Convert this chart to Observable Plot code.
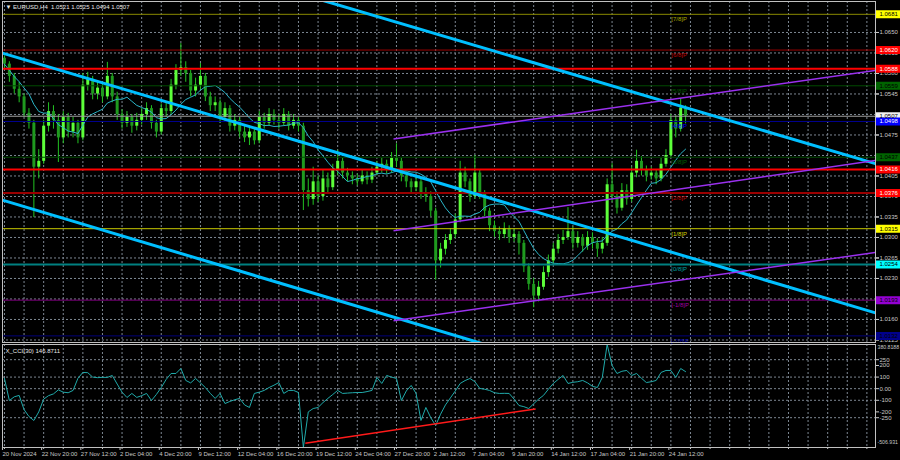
<!DOCTYPE html>
<html><head><meta charset="utf-8">
<script src="https://cdn.jsdelivr.net/npm/d3@7"></script>
<script src="https://cdn.jsdelivr.net/npm/@observablehq/plot@0.6"></script>
<style>
html,body{margin:0;padding:0;background:#000;}
#wrap{position:relative;width:900px;height:460px;background:#000;overflow:hidden;}
#wrap svg{position:absolute;left:0;}
</style></head><body><div id="wrap"></div>
<script>
// ---------- data (EURUSD, one candle = 2 H4 bars) ----------
const symbol = "EURUSD,H4";
const firstOpen = 1.0606;
const close = [1.0596,1.0575,1.0553,1.0540,1.0512,1.0495,1.0420,1.0430,1.0490,1.0515,
1.0500,1.0470,1.0505,1.0480,1.0495,1.0470,1.0560,1.0570,1.0545,1.0555,
1.0540,1.0575,1.0540,1.0510,1.0495,1.0505,1.0490,1.0500,1.0510,1.0520,
1.0495,1.0480,1.0520,1.0515,1.0560,1.0585,1.0590,1.0580,1.0550,1.0560,
1.0575,1.0540,1.0525,1.0530,1.0505,1.0520,1.0490,1.0500,1.0480,1.0470,
1.0480,1.0465,1.0505,1.0495,1.0510,1.0500,1.0495,1.0510,1.0490,1.0500,
1.0490,1.0380,1.0365,1.0395,1.0370,1.0400,1.0385,1.0415,1.0430,1.0410,
1.0405,1.0400,1.0395,1.0405,1.0398,1.0410,1.0420,1.0425,1.0415,1.0435,
1.0430,1.0405,1.0395,1.0385,1.0395,1.0375,1.0370,1.0345,1.0260,1.0280,
1.0295,1.0305,1.0330,1.0410,1.0395,1.0370,1.0410,1.0375,1.0345,1.0320,
1.0310,1.0305,1.0315,1.0300,1.0305,1.0290,1.0250,1.0220,1.0200,1.0215,
1.0240,1.0260,1.0280,1.0295,1.0300,1.0310,1.0290,1.0300,1.0285,1.0300,
1.0290,1.0280,1.0290,1.0390,1.0370,1.0350,1.0380,1.0365,1.0410,1.0430,
1.0415,1.0405,1.0410,1.0400,1.0425,1.0440,1.0500,1.0485,1.0521,1.0507];
const high = [1.0610,1.0600,1.0580,1.0565,1.0545,1.0520,1.0500,1.0450,1.0500,1.0530,
1.0525,1.0510,1.0515,1.0512,1.0505,1.0500,1.0580,1.0582,1.0575,1.0565,
1.0562,1.0599,1.0580,1.0548,1.0518,1.0515,1.0510,1.0512,1.0520,1.0530,
1.0525,1.0500,1.0528,1.0530,1.0570,1.0595,1.0631,1.0600,1.0585,1.0572,
1.0597,1.0580,1.0548,1.0540,1.0535,1.0530,1.0525,1.0510,1.0505,1.0490,
1.0490,1.0488,1.0515,1.0512,1.0520,1.0518,1.0510,1.0520,1.0515,1.0510,
1.0505,1.0495,1.0400,1.0420,1.0405,1.0415,1.0410,1.0425,1.0449,1.0435,
1.0418,1.0412,1.0408,1.0415,1.0412,1.0420,1.0430,1.0435,1.0432,1.0445,
1.0460,1.0435,1.0412,1.0400,1.0405,1.0400,1.0385,1.0378,1.0350,1.0290,
1.0305,1.0315,1.0340,1.0430,1.0420,1.0400,1.0440,1.0415,1.0380,1.0350,
1.0328,1.0318,1.0325,1.0320,1.0315,1.0310,1.0295,1.0255,1.0230,1.0225,
1.0250,1.0270,1.0290,1.0305,1.0312,1.0351,1.0318,1.0310,1.0305,1.0310,
1.0308,1.0298,1.0300,1.0400,1.0426,1.0378,1.0392,1.0390,1.0420,1.0449,
1.0438,1.0422,1.0420,1.0415,1.0435,1.0450,1.0510,1.0508,1.0537,1.0525];
const low = [1.0588,1.0565,1.0545,1.0530,1.0505,1.0485,1.0334,1.0400,1.0425,1.0480,
1.0485,1.0428,1.0460,1.0470,1.0470,1.0460,1.0465,1.0550,1.0535,1.0535,
1.0530,1.0535,1.0530,1.0500,1.0485,1.0488,1.0478,1.0482,1.0492,1.0500,
1.0485,1.0470,1.0475,1.0505,1.0510,1.0552,1.0575,1.0565,1.0540,1.0540,
1.0552,1.0532,1.0515,1.0515,1.0495,1.0498,1.0480,1.0482,1.0470,1.0462,
1.0457,1.0458,1.0460,1.0485,1.0490,1.0492,1.0485,1.0490,1.0482,1.0485,
1.0480,1.0346,1.0352,1.0355,1.0360,1.0362,1.0375,1.0380,1.0405,1.0400,
1.0395,1.0390,1.0388,1.0390,1.0390,1.0392,1.0405,1.0410,1.0408,1.0410,
1.0420,1.0395,1.0385,1.0375,1.0378,1.0365,1.0360,1.0335,1.0227,1.0248,
1.0270,1.0288,1.0298,1.0325,1.0385,1.0360,1.0365,1.0365,1.0335,1.0310,
1.0300,1.0295,1.0298,1.0290,1.0292,1.0270,1.0240,1.0210,1.0180,1.0190,
1.0210,1.0232,1.0252,1.0272,1.0288,1.0295,1.0280,1.0282,1.0275,1.0278,
1.0280,1.0266,1.0272,1.0285,1.0360,1.0340,1.0345,1.0355,1.0360,1.0402,
1.0405,1.0395,1.0398,1.0390,1.0395,1.0420,1.0435,1.0470,1.0480,1.0494];
const cci = [88,-102,-70,-58,-180,-240,-274,-200,-90,-60,
-45,-10,-30,-35,-15,90,140,138,100,95,
98,97,114,40,-30,-76,-41,-75,-60,-41,
-102,-50,10,80,131,131,174,71,50,88,
50,10,-40,-84,-41,-128,-110,-95,-84,-140,
-162,-41,-30,-15,10,30,53,-41,-15,-15,
-33,-506.931,-200,-171,-162,-120,-84,-50,-15,-41,
-38,-35,-33,-33,-25,-15,97,45,114,100,
88,-102,-20,28,-41,-274,-162,-250,-317,-220,
-140,-80,-20,45,70,88,60,2,-5,-15,
-35,-41,-40,-41,-90,-145,-155,-171,-130,-90,
-58,-5,45,80,114,45,55,60,71,50,
20,10,97,380.8188,200,131,150,157,114,131,
90,53,60,71,140,157,157,97,174,146.8711];

const tickBars = [0,8,16,24,32,40,48,56,64,72,80,88,96,104,112,120,128,136];
const tickLabels = ["20 Nov 2024","22 Nov 20:00","27 Nov 12:00","2 Dec 04:00","4 Dec 20:00","9 Dec 12:00","12 Dec 04:00","16 Dec 20:00","19 Dec 12:00","24 Dec 04:00","27 Dec 20:00","2 Jan 12:00","7 Jan 04:00","9 Jan 20:00","14 Jan 12:00","17 Jan 04:00","21 Jan 20:00","24 Jan 12:00"];
const gridBars = d3.range(0, 177, 4);
const priceTicks = [1.0650,1.0615,1.0580,1.0545,1.0510,1.0475,1.0440,1.0405,1.0370,1.0335,1.0300,1.0265,1.0230,1.0195,1.0160,1.0125];
const priceTickLabels = [1.0650,1.0615,1.0580,1.0545,1.0475,1.0405,1.0370,1.0335,1.0300,1.0265,1.0230,1.0160,1.0125];
const cciMidTicks = [250,200,100,0,-100,-200,-250];
const cciMidText = ["250","200","100","0.00","-100","-200","-250"];
const cciMax = 380.8188, cciMin = -506.931;
const cciGrid = [250,100,0,-100,-250];

const murreyPrices = [1.0681,1.0620,1.0559,1.0498,1.0437,1.0376,1.0315,1.0254,1.0193,1.0132];
const murreyNames = ["[7/8]P","[6/8]P","[5/8]P","[4/8]P","[3/8]P","[2/8]P","[1/8]P","[0/8]P","[-1/8]P","[-2/8]P"];
const murreyColors = ["#8a8a00","#9a0000","#004a00","#00008c","#004a00","#9a0000","#c8c800","#008080","#800080","#00007a"];
const murreyTextColors = ["#a8a800","#c00000","#005a00","#0000ff","#006000","#c00000","#d0d000","#00a0a0","#a000a0","#0000b0"];
const murreyWidths = [1,1,1,1,1,2,1,2,1,1];
const labelBar = 136.1;
const srPrices = [1.0588,1.0416];
const bidPrice = 1.0507;

const boxPrices = [1.0681,1.0620,1.0588,1.0559,1.0507,1.0498,1.0437,1.0416,1.0376,1.0315,1.0254,1.0193,1.0132];
const boxBg = ["#ffff00","#ff0000","#ff0000","#006400","#f0f0f0","#0000ff","#006400","#ff0000","#ff0000","#ffff00","#00ffff","#9400d3","#00008b"];
const boxFg = ["#000","#fff","#fff","#000","#000","#fff","#000","#fff","#fff","#000","#000","#000","#000"];

const cyanLines = [
  {x1:-0.4, p1:1.06148, x2:177.76, p2:1.01713},
  {x1:60.4, p1:1.0716, x2:177.76, p2:1.0426},
  {x1:-0.4, p1:1.03638, x2:101.2, p2:1.01096}
];
const purpleLines = [
  {x1:79.4, p1:1.04683, x2:177.76, p2:1.05851},
  {x1:79.4, p1:1.03116, x2:177.76, p2:1.04316},
  {x1:79.4, p1:1.01578, x2:177.76, p2:1.02744}
];
const cciTrend = [{x1:61.4, v1:-470, x2:108.4, v2:-175}];

// ---------- build ----------
const candles = close.map((c, i) => {
  const o = i === 0 ? firstOpen : close[i - 1];
  return {i, open: o, close: c, high: Math.max(high[i], o, c), low: Math.min(low[i], o, c)};
});
const cciData = cci.map((v, i) => ({i, v}));
const levels = murreyPrices.map((p, k) => ({p, name: murreyNames[k], color: murreyColors[k], tc: murreyTextColors[k], w: murreyWidths[k]}));
const boxes = boxPrices.map((p, k) => ({p, bg: boxBg[k], fg: boxFg[k]}));
const last = candles[candles.length - 1];
const title = `\u25BC ${symbol}  ${last.open.toFixed(4)} ${last.high.toFixed(4)} ${last.low.toFixed(4)} ${last.close.toFixed(4)}`;
const cciTitle = `X_CCI(30) ${cci[cci.length - 1].toFixed(4)}`;

const FONT = "'Liberation Sans', Arial, sans-serif";
const GRID = "#7d8792";
const xDomain = [-0.4, 177.76];

const main = Plot.plot({
  width: 900, height: 344, marginTop: 1, marginBottom: 2, marginLeft: 2, marginRight: 25,
  style: {background: "transparent", color: "#c8c8c8", fontFamily: FONT, fontSize: "6px"},
  x: {domain: xDomain, axis: null},
  y: {domain: [1.01207, 1.07029], axis: null},
  marks: [
    Plot.ruleY(priceTicks, {stroke: GRID, strokeDasharray: "2,2"}),
    Plot.ruleX(gridBars, {stroke: GRID, strokeDasharray: "2,2"}),
    Plot.ruleX(candles, {x: "i", y1: "low", y2: "high", stroke: "#22c322", strokeWidth: 1}),
    Plot.ruleX(candles, {x: "i", y1: "open", y2: "close", stroke: d => d.close >= d.open ? "#5dff3a" : "#1f9a1f", strokeWidth: 3}),
    Plot.lineY(candles, Plot.windowY({k: 10, anchor: "end"}, {x: "i", y: "close", stroke: "#2bb5c8", strokeWidth: 1})),
    Plot.ruleY([bidPrice], {stroke: "#a0a0a0", strokeWidth: 1}),
    Plot.ruleY(levels, {y: "p", stroke: "color", strokeWidth: "w"}),
    Plot.ruleY(srPrices, {stroke: "#ff0000", strokeWidth: 2}),
    Plot.link(cyanLines, {x1: "x1", y1: "p1", x2: "x2", y2: "p2", stroke: "#00bfff", strokeWidth: 3, clip: true}),
    Plot.link(purpleLines, {x1: "x1", y1: "p1", x2: "x2", y2: "p2", stroke: "#9a30ee", strokeWidth: 1.5, clip: true}),
    Plot.text(levels, {x: () => labelBar, y: "p", text: "name", fill: "tc", textAnchor: "start", dy: 5, fontSize: 6}),
    Plot.axisY(priceTicks, {anchor: "right", tickSize: 3, tickFormat: () => ""}),
    Plot.axisY(priceTickLabels, {anchor: "right", tickSize: 3, tickPadding: 1, tickFormat: d3.format(".4f"), fontSize: 6}),
    Plot.ruleY(boxes, {y: "p", stroke: "bg", strokeWidth: 8, dx: 874}),
    Plot.text(boxes, {y: "p", text: d => d.p.toFixed(4), frameAnchor: "right", dx: 4, textAnchor: "start", fill: "fg", fontSize: 6}),
    Plot.frame({stroke: "#c0c0c0"}),
    Plot.text([title], {text: d => d, frameAnchor: "top-left", dx: 3, dy: 3, lineAnchor: "top", textAnchor: "start", fill: "#e8e8e8", fontSize: 6})
  ]
});

const sub = Plot.plot({
  width: 900, height: 116, marginTop: 0, marginBottom: 13, marginLeft: 2, marginRight: 25,
  style: {background: "transparent", color: "#c8c8c8", fontFamily: FONT, fontSize: "6px"},
  x: {domain: xDomain, axis: null},
  y: {domain: [cciMin, cciMax], axis: null},
  marks: [
    Plot.ruleY(cciGrid, {stroke: GRID, strokeDasharray: "2,2"}),
    Plot.ruleX(gridBars, {stroke: GRID, strokeDasharray: "2,2"}),
    Plot.lineY(cciData, {x: "i", y: "v", stroke: "#20aaaa", strokeWidth: 1}),
    Plot.link(cciTrend, {x1: "x1", y1: "v1", x2: "x2", y2: "v2", stroke: "#ff1a1a", strokeWidth: 1.5}),
    Plot.axisY(cciMidTicks, {anchor: "right", tickSize: 3, tickPadding: 1, tickFormat: d => cciMidText[cciMidTicks.indexOf(d)], fontSize: 6}),
    Plot.axisY([cciMax], {anchor: "right", tickSize: 0, tickPadding: 2, tickFormat: d => d.toFixed(4), dy: 3, fontSize: 5.2}),
    Plot.axisY([cciMin], {anchor: "right", tickSize: 0, tickPadding: 2, tickFormat: d => d.toFixed(3), dy: -5, fontSize: 5.2}),
    Plot.axisX(gridBars, {anchor: "bottom", tickSize: 2, tickFormat: () => ""}),
    Plot.axisX(tickBars, {anchor: "bottom", tickSize: 3, tickPadding: 1, tickFormat: d => tickLabels[tickBars.indexOf(d)], textAnchor: "start", dx: -2, fontSize: 6}),
    Plot.frame({stroke: "#c0c0c0"}),
    Plot.text([cciTitle], {text: d => d, frameAnchor: "top-left", dx: 3, dy: 4, lineAnchor: "top", textAnchor: "start", fill: "#e8e8e8", fontSize: 6})
  ]
});

const wrap = document.getElementById("wrap");
main.style.top = "0px";
sub.style.top = "344px";
wrap.appendChild(main);
wrap.appendChild(sub);
</script></body></html>
